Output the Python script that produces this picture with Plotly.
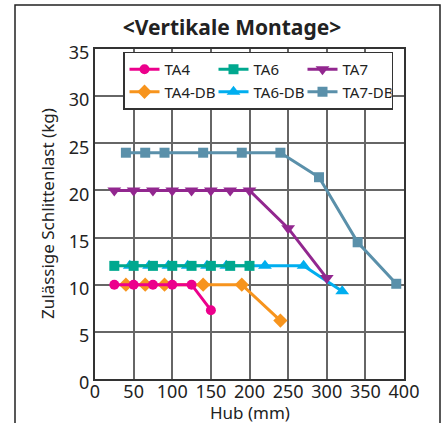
import plotly.graph_objects as go

# ---- data ----
hub_ta4 = [25, 50, 75, 100, 125, 150]
load_ta4 = [10, 10, 10, 10, 10, 7.3]

hub_ta6 = [25, 50, 75, 100, 125, 150, 175, 200]
load_ta6 = [12, 12, 12, 12, 12, 12, 12, 12]

hub_ta7 = [25, 50, 75, 100, 125, 150, 175, 200, 250, 300]
load_ta7 = [20, 20, 20, 20, 20, 20, 20, 20, 16, 10.7]

hub_ta4db = [40, 65, 90, 140, 190, 240]
load_ta4db = [10, 10, 10, 10, 10, 6.2]

hub_ta6db = [45, 70, 95, 120, 145, 170, 220, 270, 320]
load_ta6db = [12, 12, 12, 12, 12, 12, 12, 12, 9.3]

hub_ta7db = [40, 65, 90, 140, 190, 240, 290, 340, 390]
load_ta7db = [24, 24, 24, 24, 24, 24, 21.4, 14.5, 10.1]

x_ticks = [0, 50, 100, 150, 200, 250, 300, 350, 400]
y_ticks = [0, 5, 10, 15, 20, 25, 30, 35]

series = [
    # name, x, y, color, symbol, size, legendrank
    ("TA4-DB", hub_ta4db, load_ta4db, "#F7941D", "diamond", 11, 4),
    ("TA6-DB", hub_ta6db, load_ta6db, "#00AEEF", "triangle-up", 12, 5),
    ("TA7-DB", hub_ta7db, load_ta7db, "#5A90AA", "square", 10, 6),
    ("TA4", hub_ta4, load_ta4, "#EC008C", "circle", 10, 1),
    ("TA6", hub_ta6, load_ta6, "#00A88F", "square", 10, 2),
    ("TA7", hub_ta7, load_ta7, "#92278F", "triangle-down", 12, 3),
]

FONT = "Noto Sans"
TXT = "#222222"

fig = go.Figure()
for name, xs, ys, color, sym, size, rank in series:
    fig.add_trace(go.Scatter(
        x=xs, y=ys, name=name, mode="lines+markers",
        line=dict(color=color, width=3),
        marker=dict(color=color, symbol=sym, size=size),
        legendrank=rank,
    ))

L, R, T, B = 95, 39, 49, 44
W, H = 443, 423
pw, ph = W - L - R, H - T - B


def px_x(p):
    return (p - L) / pw


def px_y(p):
    return (H - B - p) / ph


fig.update_layout(
    width=W, height=H,
    margin=dict(l=L, r=R, t=T, b=B, pad=0),
    paper_bgcolor="white", plot_bgcolor="white",
    font=dict(family=FONT, color=TXT),
    title=dict(text="<b>&lt;Vertikale Montage&gt;</b>", x=232 / W,
               xanchor="center", y=1 - 28 / H, yanchor="middle",
               font=dict(family=FONT, size=21, color=TXT)),
    showlegend=True,
    legend=dict(orientation="h", x=px_x(123), xanchor="left", y=px_y(51.5), yanchor="top",
                bgcolor="white", bordercolor="#333333", borderwidth=1.5,
                font=dict(family=FONT, size=15, color=TXT),
                entrywidth=44, entrywidthmode="pixels", traceorder="normal",
                itemwidth=30, tracegroupgap=0),
    xaxis=dict(range=[0, 400], tickvals=x_ticks, showgrid=True, gridcolor="#666666", gridwidth=1.5,
               showline=True, mirror=True, linecolor="#333333", linewidth=2, zeroline=False,
               ticks="", ticklabelstandoff=-5,
               tickfont=dict(family=FONT, size=18, color=TXT)),
    yaxis=dict(range=[0, 35], tickvals=y_ticks, showgrid=True, gridcolor="#666666", gridwidth=1.5,
               showline=True, mirror=True, linecolor="#333333", linewidth=2, zeroline=False,
               ticks="", ticklabelstandoff=0, ticklabelshift=4,
               tickfont=dict(family=FONT, size=18, color=TXT)),
    annotations=[
        dict(text="Hub (mm)", xref="paper", yref="paper", x=px_x(250), y=px_y(412),
             xanchor="center", yanchor="middle", showarrow=False,
             font=dict(family=FONT, size=17, color=TXT)),
        dict(text="Zulässige Schlittenlast (kg)", xref="paper", yref="paper",
             x=px_x(47), y=px_y(214), xanchor="center", yanchor="middle",
             textangle=-90, showarrow=False,
             font=dict(family=FONT, size=17, color=TXT)),
    ],
    shapes=[dict(type="rect", xref="paper", yref="paper",
                 x0=px_x(15), x1=px_x(440), y0=px_y(440), y1=px_y(5),
                 line=dict(color="#222222", width=1.5), layer="above")],
)

fig.write_html("out.html", config={"displayModeBar": False},
               post_script="document.body.style.margin='0';")
